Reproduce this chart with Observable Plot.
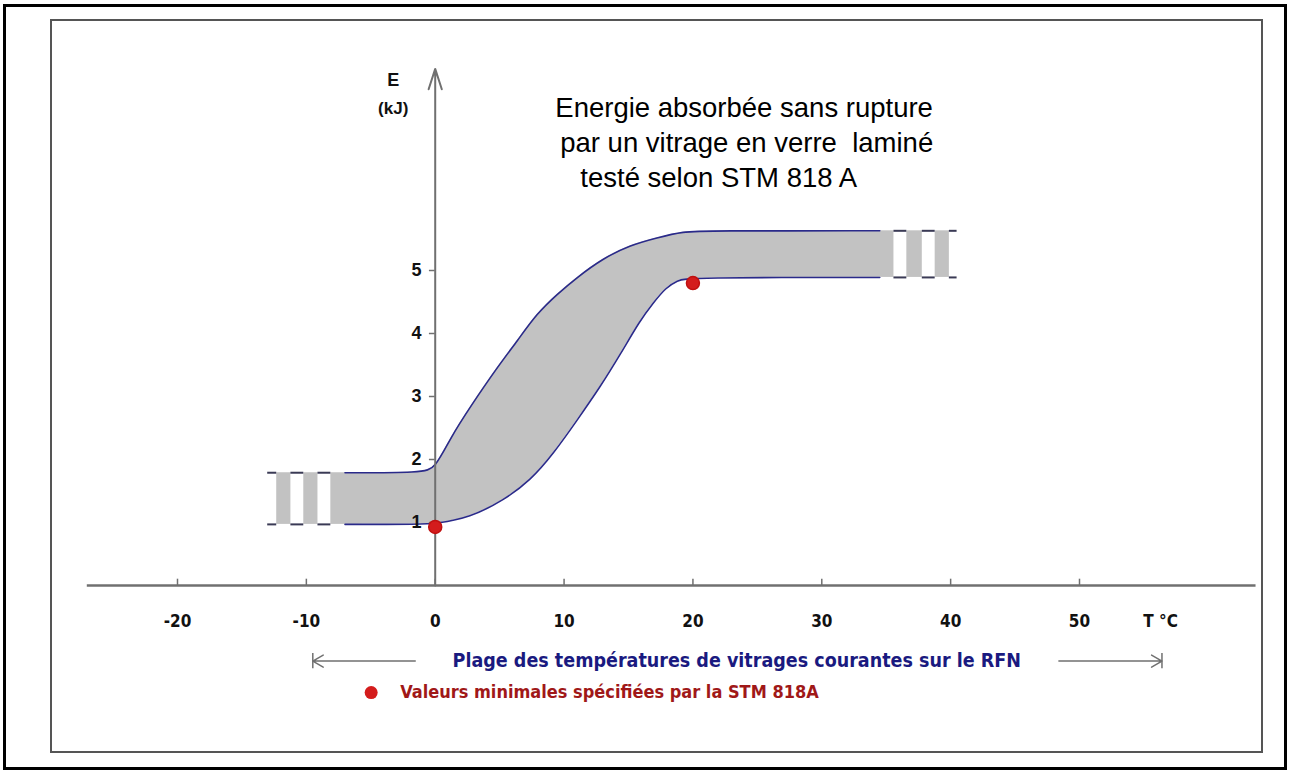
<!DOCTYPE html>
<html>
<head>
<meta charset="utf-8">
<script src="https://cdn.jsdelivr.net/npm/d3@7"></script>
<script src="https://cdn.jsdelivr.net/npm/@observablehq/plot@0.6"></script>
<style>
  html, body { margin: 0; padding: 0; background: #fff; }
  #wrap { position: relative; width: 1289px; height: 771px; overflow: hidden; }
  #chart { position: absolute; left: 0; top: 0; }
  .outer { position: absolute; left: 3px; top: 4px; width: 1284px; height: 766px; box-sizing: border-box; border: 3px solid #000; pointer-events: none; }
  .inner { position: absolute; left: 50px; top: 19px; width: 1213px; height: 734px; box-sizing: border-box; border: 2px solid #555; pointer-events: none; }
</style>
</head>
<body>
<div id="wrap">
  <div id="chart"></div>
  <div class="outer"></div>
  <div class="inner"></div>
</div>
<script>
// ---- data ----
const xTicks = [-20, -10, 0, 10, 20, 30, 40, 50];
const yTicks = [1, 2, 3, 4, 5];

// upper edge of the band (T °C, E kJ)
const upperT = [-7.0, -1.0, 0.0, 1.2, 2.7, 4.8, 6.4, 7.9, 9.5, 11.0, 13.0, 15.1, 17.2, 19.3, 21.0, 34.5];
const upperE = [1.79, 1.79, 1.86, 2.35, 2.83, 3.46, 3.89, 4.32, 4.63, 4.89, 5.19, 5.40, 5.52, 5.62, 5.63, 5.63];
// lower edge of the band
const lowerT = [-7.0, -1.0, 0.0, 2.7, 5.3, 7.4, 9.2, 11.0, 12.8, 14.4, 15.9, 16.9, 17.9, 18.8, 19.6, 34.5];
const lowerE = [0.97, 0.97, 0.98, 1.08, 1.35, 1.67, 2.10, 2.62, 3.15, 3.68, 4.21, 4.48, 4.73, 4.84, 4.89, 4.89];

// broken ends of the band (gray blocks and dashes over the gaps)
const leftBlocks  = [[-8.1, -6.9], [-10.2, -9.1], [-12.3, -11.2]];
const leftDashes  = [[-13.0, -12.3], [-11.2, -10.2], [-9.1, -8.1]];
const rightBlocks = [[34.4, 35.6], [36.6, 37.8], [38.8, 39.9]];
const rightDashes = [[35.6, 36.6], [37.8, 38.8], [39.9, 40.5]];

// minimum values specified by STM 818A
const minT = [0, 20];
const minE = [0.93, 4.8];

const titleLines = ["Energie absorbée sans rupture", "par un vitrage en verre  laminé", "testé selon STM 818 A"];
const rangeCaption = "Plage des températures de vitrages courantes sur le RFN";
const legendCaption = "Valeurs minimales spécifiées par la STM 818A";
const xUnit = "T °C";
const yName = "E";
const yUnit = "(kJ)";

// ---- derived tables ----
const band = upperT.map((t, i) => ({tu: t, eu: upperE[i], tl: lowerT[i], el: lowerE[i]}));
const upper = upperT.map((t, i) => ({t, e: upperE[i]}));
const lower = lowerT.map((t, i) => ({t, e: lowerE[i]}));
const loL = lowerE[0], hiL = upperE[0];
const loR = lowerE[lowerE.length - 1], hiR = upperE[upperE.length - 1];
const blocks = [
  ...leftBlocks.map(([a, b]) => ({x1: a, x2: b, y1: loL, y2: hiL})),
  ...rightBlocks.map(([a, b]) => ({x1: a, x2: b, y1: loR, y2: hiR}))
];
const dashes = [
  ...leftDashes.flatMap(([a, b]) => [{x1: a, x2: b, y: loL}, {x1: a, x2: b, y: hiL}]),
  ...rightDashes.flatMap(([a, b]) => [{x1: a, x2: b, y: loR}, {x1: a, x2: b, y: hiR}])
];
const mins = minT.map((t, i) => ({t, e: minE[i]}));

const narrow = "'Liberation Sans Narrow', 'Arial Narrow', 'DejaVu Sans Condensed', sans-serif";
const sans = "'Liberation Sans', Arial, sans-serif";
const gray = "#707070";
const navy = "#2a2a8a";
const curve = "basis";

const chart = Plot.plot({
  width: 1289,
  height: 771,
  marginTop: 0,
  marginRight: 0,
  marginBottom: 150,
  marginLeft: 421,
  style: {background: "transparent", overflow: "visible"},
  x: {domain: [-20, 50], range: [177, 1079], axis: null},
  y: {domain: [0, 5], range: [585, 270], axis: null},
  marks: [
    // band
    Plot.rect(blocks, {x1: "x1", x2: "x2", y1: "y1", y2: "y2", fill: "#c2c2c2"}),
    Plot.area(band, {x1: "tl", y1: "el", x2: "tu", y2: "eu", fill: "#c2c2c2", curve}),
    Plot.line(upper, {x: "t", y: "e", stroke: navy, strokeWidth: 1.6, curve}),
    Plot.line(lower, {x: "t", y: "e", stroke: navy, strokeWidth: 1.6, curve}),
    Plot.ruleY(dashes, {x1: "x1", x2: "x2", y: "y", stroke: "#3a3a55", strokeWidth: 2}),
    // axes
    Plot.ruleY([0], {x1: -27, x2: 63.7, stroke: gray, strokeWidth: 2.5}),
    Plot.ruleX(xTicks, {x: d => d, y1: 0, y2: 0.1, stroke: gray, strokeWidth: 1.5}),
    Plot.ruleY(yTicks, {y: d => d, x1: -0.45, x2: 0, stroke: gray, strokeWidth: 1.5}),
    Plot.arrow([0], {x1: () => 0, x2: () => 0, y1: () => 0, y2: () => 8.2, stroke: gray, strokeWidth: 2, headLength: 16, headAngle: 36}),
    Plot.text(xTicks, {x: d => d, text: d => String(d), frameAnchor: "bottom", lineAnchor: "middle", fontSize: 17, fontWeight: "bold", fontFamily: narrow, fill: "#111"}),
    Plot.text([xUnit], {x: () => 56.3, text: d => d, frameAnchor: "bottom", lineAnchor: "middle", fontSize: 17, fontWeight: "bold", fontFamily: narrow, fill: "#111"}),
    Plot.text(yTicks, {y: d => d, text: d => String(d), frameAnchor: "left", textAnchor: "end", fontSize: 18, fontWeight: "bold", fontFamily: sans, fill: "#111"}),
    Plot.text([yName], {x: () => -3.26, y: () => 8.02, text: d => d, fontSize: 18, fontWeight: "bold", fontFamily: sans, fill: "#111"}),
    Plot.text([yUnit], {x: () => -3.26, y: () => 7.57, text: d => d, fontSize: 17, fontWeight: "bold", fontFamily: sans, fill: "#111"}),
    // minimum values
    Plot.dot(mins, {x: "t", y: "e", r: 6.5, fill: "#d41c1c", stroke: "#c01010"}),
    // title
    Plot.text([titleLines[0]], {x: () => 9.32, y: () => 7.57, text: d => d, textAnchor: "start", fontSize: 27.5, fontFamily: sans, fill: "#000"}),
    Plot.text([titleLines[1]], {x: () => 9.7, y: () => 7.02, text: d => d, textAnchor: "start", fontSize: 27.5, fontFamily: sans, fill: "#000"}),
    Plot.text([titleLines[2]], {x: () => 11.26, y: () => 6.46, text: d => d, textAnchor: "start", fontSize: 27.5, fontFamily: sans, fill: "#000"}),
    // temperature range caption with arrows
    Plot.arrow([0], {x1: () => -1.55, x2: () => -9.5, y1: () => -1.2, y2: () => -1.2, stroke: gray, strokeWidth: 1.5, headLength: 12, headAngle: 60}),
    Plot.ruleX([0], {x: () => -9.5, y1: () => -1.08, y2: () => -1.32, stroke: gray, strokeWidth: 1.5}),
    Plot.arrow([0], {x1: () => 48.4, x2: () => 56.4, y1: () => -1.2, y2: () => -1.2, stroke: gray, strokeWidth: 1.5, headLength: 12, headAngle: 60}),
    Plot.ruleX([0], {x: () => 56.4, y1: () => -1.08, y2: () => -1.32, stroke: gray, strokeWidth: 1.5}),
    Plot.text([rangeCaption], {x: () => 23.4, y: () => -1.2, text: d => d, fontSize: 19.5, fontWeight: "bold", fontFamily: narrow, fill: "#1a1a80"}),
    // legend
    Plot.dot([0], {x: () => -4.97, y: () => -1.7, r: 6.5, fill: "#d41c1c"}),
    Plot.text([legendCaption], {x: () => -2.72, y: () => -1.7, text: d => d, textAnchor: "start", fontSize: 18, fontWeight: "bold", fontFamily: narrow, fill: "#a01818"})
  ]
});
document.getElementById("chart").appendChild(chart);
</script>
</body>
</html>
